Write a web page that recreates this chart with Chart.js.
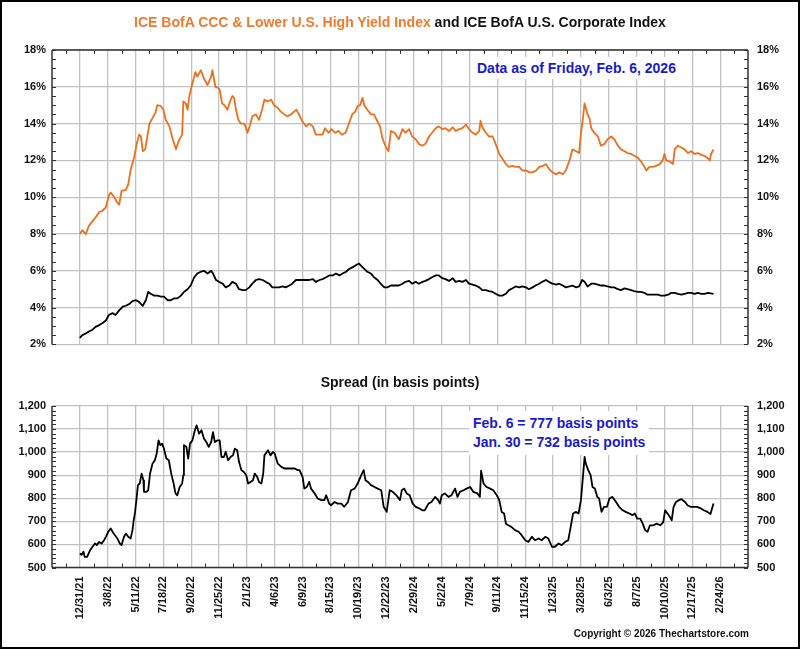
<!DOCTYPE html>
<html><head><meta charset="utf-8">
<script src="https://cdn.jsdelivr.net/npm/chart.js@4.4.1/dist/chart.umd.min.js"></script>
<style>
html,body{margin:0;padding:0;background:#fff;}
#wrap{position:relative;width:800px;height:649px;overflow:hidden;background:#fff;font-family:'Liberation Sans',Arial,sans-serif;font-weight:bold;}
#c1box{position:absolute;left:0;top:0;width:800px;height:360px;}
#c2box{position:absolute;left:0;top:360px;width:800px;height:289px;}
.t{position:absolute;white-space:nowrap;}
.box{background:#fff;}
#frame{position:absolute;left:0;top:0;width:800px;height:649px;box-sizing:border-box;border:2px solid #000;pointer-events:none;}
</style></head><body>
<div id="wrap">
 <div id="c1box"><canvas id="c1" width="800" height="360"></canvas></div>
 <div id="c2box"><canvas id="c2" width="800" height="289"></canvas></div>
 <div class="t" style="left:0;width:800px;top:14px;text-align:center;font-size:14px;line-height:16px;"><span style="color:#F07A2E">ICE BofA CCC &amp; Lower U.S. High Yield Index</span><span style="color:#111"> and ICE BofA U.S. Corporate Index</span></div>
 <div class="t box" style="left:473px;top:57px;padding:2px 4px;font-size:14px;line-height:18px;color:#1A1ACC;">Data as of Friday, Feb. 6, 2026</div>
 <div class="t" style="left:0;width:800px;top:374px;text-align:center;font-size:14px;line-height:16px;color:#111;">Spread (in basis points)</div>
 <div class="t box" style="left:469px;top:411px;padding:3px 4px;font-size:14px;line-height:19px;color:#1A1ACC;">Feb. 6 = 777 basis points<br>Jan. 30 = 732 basis points</div>
 <div class="t" style="right:51px;top:628px;font-size:10px;line-height:12px;color:#111;">Copyright © 2026 Thechartstore.com</div>
 <div id="frame"></div>
</div>
<script>
// x values: trading days since 12/31/21; one tick label every 46 trading days
const TRADING_DAYS_PER_LABEL = 46;
const xTickLabels = ['12/31/21','3/8/22','5/11/22','7/18/22','9/20/22','11/25/22','2/1/23','4/6/23','6/9/23','8/15/23','10/19/23','12/22/23','2/29/24','5/2/24','7/9/24','9/11/24','11/15/24','1/23/25','3/28/25','6/3/25','8/7/25','10/10/25','12/17/25','2/24/26'];
const yieldTicks = [2,4,6,8,10,12,14,16,18];
const spreadTicks = [500,600,700,800,900,1000,1100,1200];

// ICE BofA CCC & Lower U.S. High Yield Index (yield, %)
const cccDays = [0,4,10,15,21,26,32,37,43,48,51,57,62,65,69,76,80,84,90,94,98,101,104,108,112,115,120,125,128,134,138,142,148,153,159,163,169,171,175,178,181,186,191,194,200,205,211,217,219,224,228,231,235,239,244,248,252,255,258,262,266,272,277,281,285,291,296,301,305,310,316,321,327,332,338,343,349,354,358,362,368,374,379,385,390,396,401,405,411,416,422,427,433,439,444,450,455,459,463,467,470,475,481,486,492,496,500,506,510,514,520,527,533,538,544,549,555,560,566,571,577,582,588,593,599,604,610,616,621,627,632,638,643,649,654,660,662,665,671,676,682,687,693,698,704,709,715,720,726,731,737,743,748,754,759,765,770,776,781,787,792,798,803,809,814,820,825,828,831,834,836,839,842,845,850,856,861,867,872,878,883,889,894,900,905,911,916,922,927,933,936,941,947,952,958,963,966,969,974,980,983,988,994,999,1005,1010,1016,1021,1027,1032,1038,1041,1043,1047];
const cccYield = [8.0,8.2,8.0,8.45,8.7,8.9,9.2,9.25,9.45,10.1,10.25,10.0,9.7,9.6,10.35,10.4,10.7,11.5,12.2,12.9,13.4,13.3,12.5,12.6,13.4,14.0,14.3,14.6,15.0,14.95,14.75,14.2,13.85,13.2,12.6,13.05,13.4,15.2,15.1,14.75,15.5,16.2,16.8,16.55,16.9,16.45,16.1,16.55,16.9,16.0,15.95,15.85,15.1,15.0,14.75,15.2,15.5,15.4,14.75,14.2,14.0,14.0,13.5,13.9,14.4,14.5,14.2,14.75,15.3,15.2,15.3,15.0,14.85,14.65,14.5,14.4,14.5,14.65,14.75,14.5,14.1,13.85,14.0,13.85,13.4,13.4,13.4,13.75,13.5,13.7,13.5,13.6,13.4,13.5,13.95,14.5,14.65,14.95,15.0,15.4,15.0,14.75,14.5,14.5,14.1,13.85,13.2,12.7,12.5,13.6,13.5,13.15,13.7,13.5,13.7,13.3,13.15,12.9,12.8,12.9,13.3,13.5,13.75,13.85,13.7,13.75,13.6,13.8,13.6,13.7,13.75,13.95,13.7,13.5,13.4,13.6,14.15,13.8,13.5,13.3,13.3,12.9,12.35,12.1,11.8,11.65,11.7,11.65,11.65,11.45,11.45,11.35,11.35,11.45,11.65,11.7,11.8,11.5,11.35,11.25,11.35,11.25,11.45,12.0,12.6,12.5,12.4,13.5,14.2,15.1,14.85,14.5,14.3,13.75,13.5,13.3,12.8,12.9,13.15,13.3,13.15,12.8,12.6,12.5,12.4,12.35,12.25,12.15,11.95,11.65,11.45,11.65,11.65,11.7,11.8,12.0,12.35,12.0,11.95,11.8,12.6,12.8,12.7,12.6,12.4,12.5,12.35,12.4,12.3,12.25,12.1,12.0,12.35,12.6];

// ICE BofA U.S. Corporate Index (yield, %)
const corpDays = [0,4,10,15,21,26,32,37,43,48,54,59,65,71,76,82,87,93,98,104,109,113,117,123,128,134,139,145,150,156,161,167,172,178,183,189,194,200,205,211,217,220,225,230,236,241,247,252,258,263,269,274,280,285,291,296,302,307,313,318,324,329,335,340,346,351,357,362,368,374,379,385,390,396,401,407,412,418,423,429,434,440,445,451,456,461,464,470,475,481,486,492,497,503,508,514,520,527,533,538,544,549,555,560,566,571,577,582,588,593,599,604,610,616,621,627,632,638,643,649,654,660,665,671,676,682,687,693,698,704,709,715,720,726,731,737,742,748,753,759,764,770,775,781,787,792,798,803,809,814,820,825,830,834,839,845,850,856,861,867,872,878,883,889,894,900,905,911,916,922,927,933,938,944,949,955,960,966,972,977,983,988,994,999,1005,1010,1016,1021,1027,1032,1038,1047];
const corpYield = [2.35,2.5,2.6,2.7,2.8,2.95,3.05,3.15,3.3,3.6,3.7,3.6,3.85,4.05,4.1,4.2,4.35,4.4,4.3,4.1,4.4,4.85,4.75,4.65,4.65,4.6,4.6,4.4,4.4,4.5,4.5,4.65,4.85,5.0,5.2,5.65,5.85,5.95,6.0,5.85,6.0,5.85,5.5,5.4,5.3,5.1,5.2,5.4,5.3,5.0,4.95,4.95,5.1,5.3,5.5,5.55,5.5,5.4,5.3,5.1,5.1,5.1,5.15,5.1,5.2,5.3,5.5,5.5,5.5,5.5,5.5,5.55,5.4,5.5,5.55,5.65,5.75,5.75,5.85,5.75,5.85,5.95,6.1,6.2,6.3,6.4,6.3,6.1,5.95,5.85,5.65,5.5,5.3,5.1,5.1,5.2,5.2,5.2,5.3,5.4,5.45,5.3,5.4,5.3,5.4,5.45,5.55,5.65,5.75,5.75,5.6,5.55,5.45,5.6,5.4,5.45,5.4,5.5,5.3,5.25,5.2,5.1,4.95,4.95,4.9,4.85,4.75,4.65,4.65,4.75,4.95,5.05,5.15,5.1,5.15,5.1,5.0,5.1,5.2,5.3,5.4,5.5,5.4,5.3,5.25,5.3,5.2,5.1,5.15,5.2,5.1,5.15,5.5,5.4,5.15,5.3,5.3,5.25,5.2,5.2,5.15,5.1,5.1,5.0,4.95,5.05,5.0,4.95,4.9,4.85,4.85,4.8,4.7,4.7,4.7,4.7,4.65,4.65,4.7,4.8,4.8,4.75,4.7,4.75,4.8,4.8,4.75,4.8,4.75,4.75,4.8,4.75];

// Spread (basis points)
const spreadDays = [0,3,6,8,12,17,21,25,28,32,36,40,43,47,51,54,58,62,66,69,73,76,80,84,87,89,91,94,96,99,102,105,106,110,113,116,120,124,127,130,133,136,139,143,147,151,155,158,161,165,169,171,172,176,179,182,186,190,193,197,201,205,209,213,217,220,223,227,231,234,238,241,245,249,253,256,260,263,267,271,275,278,282,286,289,293,296,300,303,305,311,315,319,322,327,333,338,344,349,355,360,363,368,371,375,379,382,388,393,399,404,407,412,415,421,426,432,437,443,448,454,459,465,469,472,476,481,487,492,498,502,507,512,517,523,529,532,536,540,545,550,555,561,566,570,576,581,587,592,595,598,603,609,614,620,624,628,634,639,645,650,657,661,663,667,672,678,683,689,693,697,701,704,708,713,719,725,730,736,741,747,752,758,763,769,774,780,785,791,796,802,807,811,815,820,824,828,831,834,836,840,844,847,851,855,858,862,866,871,875,880,886,891,897,902,908,913,917,921,926,930,934,938,942,948,953,959,964,967,973,978,981,985,990,994,1000,1004,1009,1015,1020,1026,1031,1037,1042,1047];
const spreadBp = [561,555,568,546,546,575,590,604,597,611,604,618,633,655,669,655,640,626,604,597,633,647,633,626,662,705,734,806,857,864,907,878,828,828,835,907,950,965,994,1051,1030,1037,1015,972,965,907,864,821,813,849,864,900,1030,1023,972,1037,1051,1095,1116,1080,1095,1059,1044,1023,1044,1087,1044,1051,1051,979,979,1001,965,979,986,1015,1008,958,922,914,900,864,871,878,907,893,871,864,907,986,1008,986,1001,994,950,936,929,929,929,929,922,922,893,842,849,871,842,821,799,792,792,813,777,770,784,777,777,763,784,835,842,864,900,922,878,871,857,849,842,835,763,741,835,828,813,792,835,842,821,813,777,763,756,748,748,777,784,806,792,777,813,821,806,813,842,806,828,835,842,849,828,821,806,920,864,849,842,835,813,792,741,734,690,683,676,662,655,640,618,611,633,618,626,618,633,626,590,590,604,597,611,618,676,734,741,734,792,885,979,950,922,900,849,842,806,799,741,763,763,799,806,784,763,748,741,734,727,734,712,712,690,662,655,683,683,690,683,697,748,727,705,763,784,792,796,784,770,763,763,763,756,748,741,732,777];

const pts = (xs, ys) => xs.map((x, i) => ({x: x, y: ys[i]}));
const FONT = {family: "'Liberation Sans', Arial, sans-serif", size: 11, weight: 'bold'};
const GRID = '#c2c2c2';
const DARK = '#333333';
const xMin = -TRADING_DAYS_PER_LABEL, xMax = TRADING_DAYS_PER_LABEL * (xTickLabels.length);

function xScale(showLabels, height) {
  return {
    type: 'linear', min: xMin, max: xMax,
    afterBuildTicks: s => { s.ticks = xTickLabels.map((_, i) => ({value: i * TRADING_DAYS_PER_LABEL})); },
    afterFit: s => { s.height = height; },
    grid: {color: GRID, lineWidth: 1.3, drawTicks: false},
    border: {display: false},
    ticks: {display: showLabels, autoSkip: false, minRotation: 90, maxRotation: 90, padding: 9, font: FONT, color: '#111',
      callback: v => xTickLabels[Math.round(v / TRADING_DAYS_PER_LABEL)]}
  };
}
function yScale(pos, ticks, fmt, withGrid) {
  return {
    type: 'linear', position: pos, min: ticks[0], max: ticks[ticks.length - 1],
    afterBuildTicks: s => { s.ticks = ticks.map(v => ({value: v})); },
    afterFit: s => { s.width = 52; },
    grid: {display: withGrid, color: GRID, lineWidth: 1.3, drawTicks: false},
    border: {display: false},
    ticks: {font: FONT, color: '#111', padding: pos === 'left' ? 6 : 9, callback: fmt}
  };
}

const framePlugin = {
  id: 'frame',
  afterDraw(chart, args, o) {
    const {ctx, chartArea: a, scales} = chart;
    ctx.save();
    ctx.strokeStyle = DARK; ctx.lineWidth = 1.5;
    ctx.beginPath();
    ctx.moveTo(a.left, a.top); ctx.lineTo(a.left, a.bottom);
    ctx.moveTo(a.right, a.top); ctx.lineTo(a.right, a.bottom);
    const edgeY = o.edge === 'top' ? a.top : a.bottom;
    ctx.moveTo(a.left, edgeY); ctx.lineTo(a.right, edgeY);
    ctx.stroke();
    ctx.lineWidth = 1;
    ctx.beginPath();
    const dir = o.edge === 'top' ? 1 : -1;
    for (let i = -1; i < xTickLabels.length; i++) {
      const px = Math.round(scales.x.getPixelForValue((i + 0.5) * TRADING_DAYS_PER_LABEL)) + 0.5;
      ctx.moveTo(px, edgeY); ctx.lineTo(px, edgeY + dir * 4);
    }
    const ys = scales.y;
    for (let v = ys.min; v <= ys.max + 1e-9; v += o.minorStep) {
      const py = Math.round(ys.getPixelForValue(v)) + 0.5;
      ctx.moveTo(a.left, py); ctx.lineTo(a.left + 4, py);
      ctx.moveTo(a.right, py); ctx.lineTo(a.right - 4, py);
    }
    ctx.stroke();
    ctx.restore();
  }
};

const common = {
  responsive: false, animation: false, events: [],
  plugins: {legend: {display: false}, tooltip: {enabled: false}},
  elements: {point: {radius: 0}, line: {tension: 0, borderJoinStyle: 'round'}}
};

new Chart(document.getElementById('c1'), {
  type: 'line',
  data: {datasets: [
    {label: 'ICE BofA CCC & Lower U.S. High Yield Index', data: pts(cccDays, cccYield), borderColor: '#F06E1A', borderWidth: 1.8},
    {label: 'ICE BofA U.S. Corporate Index', data: pts(corpDays, corpYield), borderColor: '#000000', borderWidth: 1.8}
  ]},
  options: Object.assign({}, common, {
    layout: {padding: {top: 50, bottom: 0, left: 0, right: 0}},
    plugins: Object.assign({}, common.plugins, {frame: {edge: 'top', minorStep: 0.5}}),
    scales: {
      x: xScale(false, 14),
      y: yScale('left', yieldTicks, v => v + '%', true),
      y2: yScale('right', yieldTicks, v => v + '%', false)
    }
  }),
  plugins: [framePlugin]
});

new Chart(document.getElementById('c2'), {
  type: 'line',
  data: {datasets: [
    {label: 'Spread (in basis points)', data: pts(spreadDays, spreadBp), borderColor: '#000000', borderWidth: 1.8}
  ]},
  options: Object.assign({}, common, {
    layout: {padding: {top: 46, bottom: 0, left: 0, right: 0}},
    plugins: Object.assign({}, common.plugins, {frame: {edge: 'bottom', minorStep: 20}}),
    scales: {
      x: xScale(true, 81.5),
      y: yScale('left', spreadTicks, v => v.toLocaleString('en-US'), true),
      y2: yScale('right', spreadTicks, v => v.toLocaleString('en-US'), false)
    }
  }),
  plugins: [framePlugin]
});
</script>
</body></html>
